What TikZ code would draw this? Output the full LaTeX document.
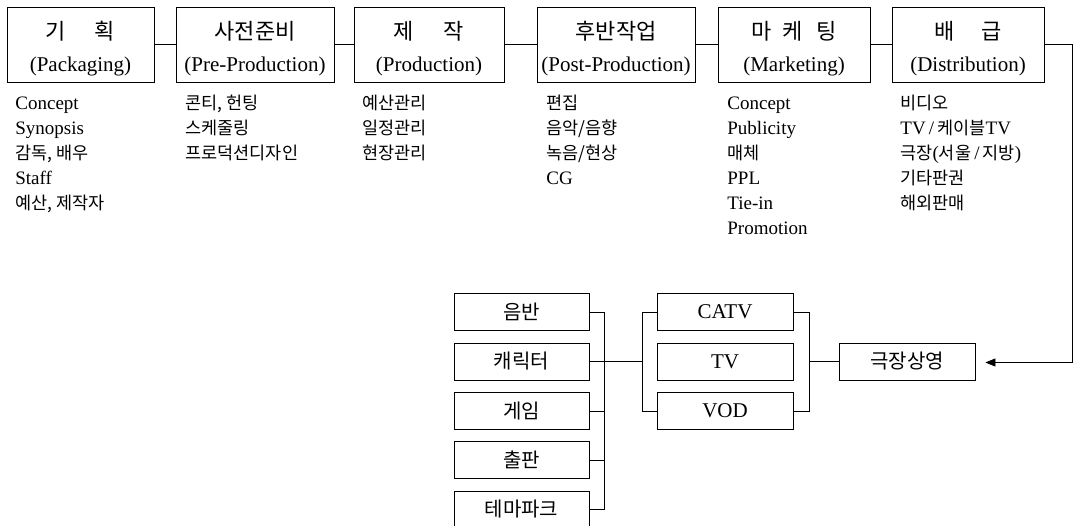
\documentclass[tikz,border=0pt]{standalone}
\usepackage{fontspec}
\setmainfont{Liberation Serif}
\newfontfamily\krf{Noto Sans CJK KR}
\usetikzlibrary{arrows.meta,calc}
\newcommand\kt[1]{{\krf\fontsize{22}{25}\selectfont #1}}
\newcommand\kb[1]{{\krf\fontsize{17.5}{25}\selectfont #1}}
\newcommand\kx[1]{{\krf\fontsize{20}{25}\selectfont #1}}
\begin{document}
\begin{tikzpicture}[x=1pt,y=-1pt,line width=0.8pt,
  topbox/.style={draw, minimum height=75pt, inner sep=0pt},
  ttl/.style={anchor=base, inner sep=0pt, font=\fontsize{21}{25}\selectfont},
  col/.style={anchor=north west, inner sep=0pt, align=left, font=\fontsize{19}{25}\selectfont},
  sbox/.style={draw, minimum width=135pt, minimum height=37pt, inner sep=0pt, font=\fontsize{21}{25}\selectfont},
  arr/.style={-{Triangle[length=10pt,width=8pt]}}]
\useasboundingbox (0,0) rectangle (1076,526);

% top boxes
\node[topbox, minimum width=147pt] (b1) at (80.5,44.5) {};
\node[topbox, minimum width=158pt] (b2) at (255,44.5) {};
\node[topbox, minimum width=150pt] (b3) at (429,44.5) {};
\node[topbox, minimum width=158pt] (b4) at (616,44.5) {};
\node[topbox, minimum width=152pt] (b5) at (794,44.5) {};
\node[topbox, minimum width=152pt] (b6) at (968,44.5) {};

\node[ttl] (k1) at ($(b1.north)+(0,33)$) {\kt{기\hspace{1.3em}획}};
\node[ttl] (k2) at ($(b2.north)+(0,33)$) {\kt{사전준비}};
\node[ttl] (k3) at ($(b3.north)+(0,33)$) {\kt{제\hspace{1.35em}작}};
\node[ttl] (k4) at ($(b4.north)+(0,33)$) {\kt{후반작업}};
\node[ttl] (k5) at ($(b5.north)+(0,33)$) {\kt{마\hspace{0.5em}케\hspace{0.6em}팅}};
\node[ttl] (k6) at ($(b6.north)+(0,33)$) {\kt{배\hspace{1.2em}급}};

\node[ttl] (e1) at ($(b1.north)+(0,65)$) {(Packaging)};
\node[ttl] (e2) at ($(b2.north)+(0,65)$) {(Pre-Production)};
\node[ttl] (e3) at ($(b3.north)+(0,65)$) {(Production)};
\node[ttl] (e4) at ($(b4.north)+(0,65)$) {(Post-Production)};
\node[ttl] (e5) at ($(b5.north)+(0,65)$) {(Marketing)};
\node[ttl] (e6) at ($(b6.north)+(0,65)$) {(Distribution)};

\draw (b1.east) -- (b2.west);
\draw (b2.east) -- (b3.west);
\draw (b3.east) -- (b4.west);
\draw (b4.east) -- (b5.west);
\draw (b5.east) -- (b6.west);

% item lists
\node[col] (c1) at (15,91.5) {\strut Concept\\Synopsis\\\kb{감독, 배우}\\Staff\\\kb{예산, 제작자}};
\node[col] (c2) at (185,91.5) {\strut\kb{콘티, 헌팅}\\\kb{스케줄링}\\\kb{프로덕션디자인}};
\node[col] (c3) at (362,91.5) {\strut\kb{예산관리}\\\kb{일정관리}\\\kb{현장관리}};
\node[col] (c4) at (546,91.5) {\strut\kb{편집}\\\kb{음악/음향}\\\kb{녹음/현상}\\CG};
\node[col] (c5) at (727,91.5) {\strut Concept\\Publicity\\\kb{매체}\\PPL\\Tie-in\\Promotion};
\node[col] (c6) at (900,91.5) {\strut\kb{비디오}\\TV\,/\,\kb{케이블}TV\\\kb{극장}(\kb{서울}\,/\,\kb{지방})\\\kb{기타판권}\\\kb{해외판매}};

% lower boxes
\node[sbox] (m1) at (521.5,312) {\kx{음반}};
\node[sbox] (m2) at (521.5,361.5) {\kx{캐릭터}};
\node[sbox] (m3) at (521.5,411) {\kx{게임}};
\node[sbox] (m4) at (521.5,460) {\kx{출판}};
\node[sbox] (m5) at (521.5,509.5) {\kx{테마파크}};

\node[sbox, minimum width=136pt] (v1) at (725,312) {CATV};
\node[sbox, minimum width=136pt] (v2) at (725,361.5) {TV};
\node[sbox, minimum width=136pt] (v3) at (725,411) {VOD};

\node[sbox, minimum width=136pt] (gk) at (907,361.5) {\kx{극장상영}};

\coordinate (bl) at (604,0);
\coordinate (bm) at (642,0);
\coordinate (br) at (809,0);
\coordinate (rr) at (1072,0);
\coordinate (ae) at ($(gk.east)+(10,1)$);

\draw (m1.east) -- (m1.east -| bl) -- (m5.east -| bl) -- (m5.east);
\draw (m3.east) -- (m3.east -| bl);
\draw (m4.east) -- (m4.east -| bl);
\draw (m2.east) -- (m2.east -| bm);
\draw (v1.west) -- (v1.west -| bm) -- (v3.west -| bm) -- (v3.west);
\draw (v1.east) -- (v1.east -| br) -- (v3.east -| br) -- (v3.east);
\draw (v2.east -| br) -- (gk.west);

\draw[arr] (b6.east) -| (rr |- ae) -- (ae);
\end{tikzpicture}
\end{document}
